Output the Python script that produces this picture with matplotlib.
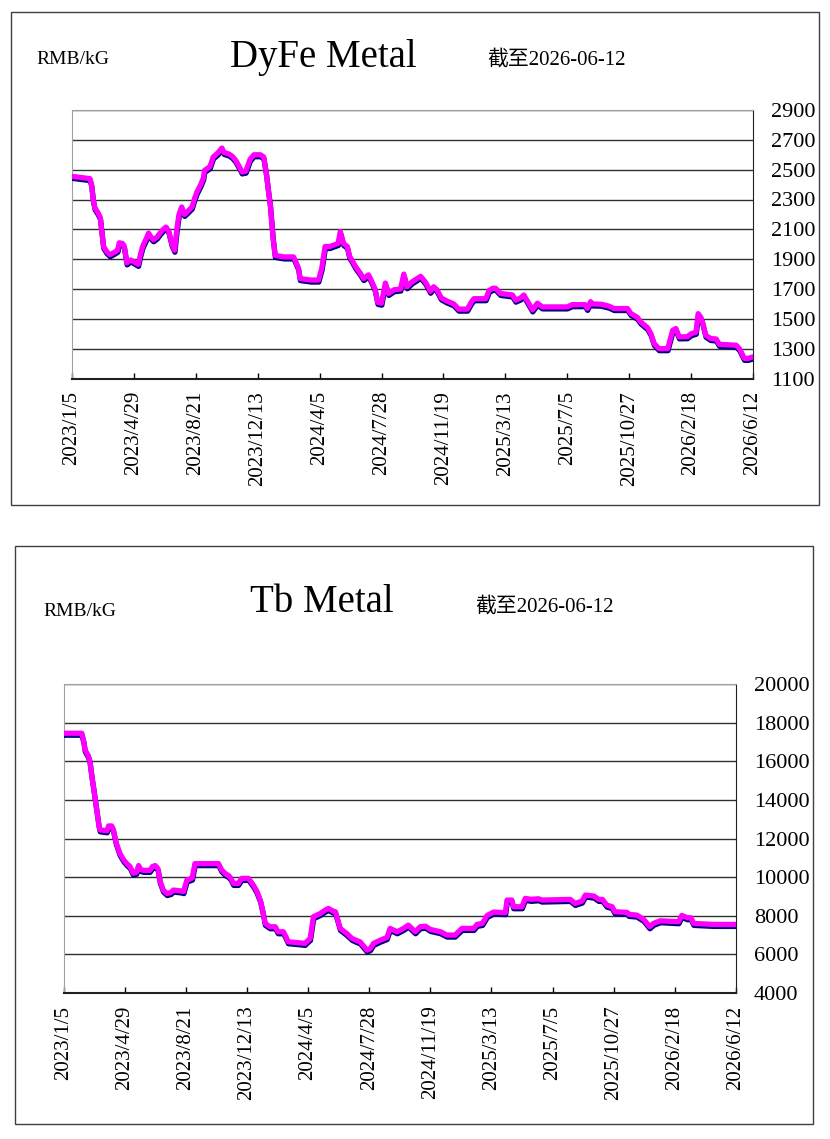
#import libraries
import numpy as np
import pandas as pd
import matplotlib
matplotlib.use("Agg")
import matplotlib.pyplot as plt
import matplotlib.transforms as mtransforms
from matplotlib.patches import Rectangle

plt.rcParams['font.family'] = ['Liberation Serif', 'Noto Sans CJK SC', 'DejaVu Sans']

#Dates on the x axis
start_date = "2023-01-05"
tick_labels = ["2023/1/5", "2023/4/29", "2023/8/21", "2023/12/13", "2024/4/5", "2024/7/28",
               "2024/11/19", "2025/3/13", "2025/7/5", "2025/10/27", "2026/2/18", "2026/6/12"]
as_of = "截至2026-06-12"
unit = "RMB/kG"

#DyFe metal price (days after start date, RMB/kg)
dyfe_day = [0, 33, 36, 39, 42, 48, 52, 56, 58, 64, 70, 80, 84, 87, 93, 96, 101, 108, 115, 122,
            126, 130, 137, 141, 146, 150, 157, 162, 168, 173, 178, 184, 189, 193, 197, 202, 207,
            213, 221, 226, 230, 237, 242, 244, 254, 260, 268, 276, 280, 289, 295, 301, 308, 313,
            320, 328, 335, 347, 353, 358, 362, 365, 370, 374, 390, 408, 413, 417, 420, 440, 454,
            460, 466, 475, 482, 490, 494, 500, 507, 511, 516, 522, 530, 537, 546, 552, 558, 563,
            570, 577, 583, 593, 605, 611, 617, 625, 642, 651, 660, 666, 672, 680, 690, 703, 712,
            728, 735, 740, 762, 768, 775, 780, 789, 811, 817, 826, 832, 840, 848, 857, 866, 912,
            921, 945, 949, 955, 958, 974, 989, 998, 1023, 1029, 1041, 1047, 1060, 1066, 1072,
            1081, 1097, 1106, 1112, 1118, 1133, 1140, 1149, 1153, 1158, 1161, 1167, 1176, 1186,
            1192, 1223, 1229, 1238, 1245, 1254]
dyfe_price = [2455, 2440, 2400, 2300, 2245, 2210, 2180, 2050, 1985, 1950, 1930, 1950, 1960, 2010,
              2005, 1990, 1875, 1895, 1880, 1865, 1930, 1985, 2040, 2075, 2045, 2030, 2050, 2075,
              2100, 2115, 2090, 2000, 1960, 2100, 2200, 2250, 2200, 2220, 2250, 2310, 2350, 2400,
              2445, 2495, 2520, 2585, 2610, 2645, 2615, 2605, 2590, 2565, 2520, 2485, 2490, 2570,
              2600, 2600, 2585, 2470, 2350, 2270, 2050, 1925, 1915, 1915, 1875, 1840, 1770, 1760,
              1760, 1840, 1985, 1985, 1995, 2005, 2085, 2005, 1985, 1920, 1890, 1850, 1810, 1770,
              1795, 1750, 1700, 1610, 1605, 1740, 1670, 1695, 1700, 1800, 1715, 1745, 1785, 1745,
              1685, 1715, 1695, 1640, 1620, 1600, 1565, 1565, 1610, 1635, 1635, 1690, 1705, 1705,
              1670, 1660, 1625, 1640, 1660, 1610, 1560, 1605, 1580, 1580, 1595, 1595, 1570, 1615,
              1600, 1598, 1585, 1569, 1569, 1536, 1510, 1480, 1440, 1400, 1334, 1300, 1300, 1423,
              1435, 1379, 1380, 1400, 1410, 1535, 1510, 1479, 1390, 1368, 1365, 1329, 1323, 1300,
              1235, 1235, 1245]

#Tb metal price (days after start date, RMB/kg)
tb_day = [0, 34, 38, 40, 46, 49, 53, 56, 62, 66, 68, 81, 84, 90, 93, 98, 105, 112, 118, 124, 130,
          136, 140, 144, 149, 161, 166, 171, 176, 180, 186, 193, 200, 205, 220, 224, 230, 240, 245,
          289, 295, 303, 307, 312, 317, 326, 332, 345, 354, 360, 367, 372, 376, 385, 395, 400, 410,
          415, 419, 440, 450, 460, 466, 479, 488, 494, 502, 507, 516, 528, 538, 548, 553, 566, 572,
          578, 591, 603, 609, 622, 634, 643, 656, 665, 675, 684, 703, 715, 730, 743, 765, 771, 781,
          790, 802, 824, 827, 836, 839, 855, 861, 872, 886, 892, 945, 954, 967, 973, 989, 998, 1005,
          1013, 1023, 1028, 1051, 1054, 1069, 1082, 1093, 1100, 1113, 1147, 1153, 1163, 1170, 1175,
          1212, 1254]
tb_price = [17450, 17450, 17000, 16600, 16300, 16050, 15200, 14650, 13500, 12700, 12450, 12400,
            12650, 12650, 12450, 11800, 11230, 10900, 10700, 10550, 10200, 10250, 10600, 10400,
            10350, 10350, 10550, 10600, 10450, 9800, 9330, 9150, 9200, 9330, 9280, 9250, 9850,
            9950, 10700, 10700, 10365, 10150, 10100, 9950, 9674, 9674, 9934, 9934, 9589, 9300,
            8812, 8200, 7604, 7430, 7430, 7170, 7170, 6900, 6653, 6600, 6567, 6826, 7948, 8122,
            8294, 8380, 8250, 8208, 7344, 7085, 6826, 6700, 6653, 6222, 6300, 6567, 6740, 6870,
            7344, 7171, 7344, 7516, 7171, 7430, 7460, 7292, 7171, 6999, 6999, 7344, 7344, 7551,
            7604, 8018, 8191, 8160, 8812, 8812, 8467, 8467, 8898, 8850, 8880, 8812, 8846, 8639,
            8760, 9071, 9019, 8846, 8846, 8553, 8467, 8208, 8173, 8070, 8035, 7810, 7430, 7604,
            7741, 7690, 8018, 7896, 7896, 7604, 7551, 7551]


#Function to draw one price panel
def draw_panel(fig, rect, box, days, prices, title, yticks, title_pos, unit_pos, asof_pos):
    ax = fig.add_axes(rect)
    dates = pd.Timestamp(start_date) + pd.to_timedelta(days, unit="D")

    #navy shadow under the magenta line
    shadow = ax.transData + mtransforms.ScaledTranslation(0.3 / 100, -2 / 100, fig.dpi_scale_trans)
    ax.plot(dates, prices, color="#000080", lw=3.8, solid_joinstyle="round", transform=shadow, zorder=3)
    ax.plot(dates, prices, color="#FF00FF", lw=3.8, solid_joinstyle="round", zorder=4)

    tick_dates = pd.to_datetime(tick_labels, format="%Y/%m/%d")
    ax.set_xlim(tick_dates[0], tick_dates[-1])
    ax.set_xticks(tick_dates)
    ax.set_xticklabels(tick_labels, rotation=90, fontsize=15)
    ax.tick_params(axis="x", direction="in", length=4, width=1, pad=9)

    ax.set_ylim(yticks[0], yticks[-1])
    ax.set_yticks(yticks)
    ax.yaxis.tick_right()
    ax.set_yticklabels([str(v) for v in yticks], fontsize=16)
    ax.tick_params(axis="y", length=0, pad=13)
    ax.grid(axis="y", color="#303030", lw=1)
    ax.set_axisbelow(True)

    ax.spines["left"].set_color("#a0a0a0")
    ax.spines["top"].set_color("#a0a0a0")
    ax.spines["bottom"].set_color("#202020")
    ax.spines["bottom"].set_linewidth(1.5)
    ax.spines["right"].set_color("#202020")

    fig.add_artist(Rectangle(box[:2], box[2], box[3], transform=fig.transFigure,
                             fill=False, edgecolor="#404040", lw=1))
    fig.text(title_pos[0], title_pos[1], title, fontsize=28, ha="center", va="center")
    fig.text(unit_pos[0], unit_pos[1], unit, fontsize=14, ha="center", va="center")
    fig.text(asof_pos[0], asof_pos[1], as_of, fontsize=15, ha="center", va="center")
    return ax


W, H = 830, 1139
fig = plt.figure(figsize=(W / 100, H / 100), dpi=100)

draw_panel(fig, [72 / W, 1 - 378.5 / H, 681 / W, 268.5 / H],
           [11 / W, 1 - 505 / H, 808 / W, 493 / H],
           dyfe_day, dyfe_price, "DyFe Metal", list(range(1100, 3000, 200)),
           (323 / W, 1 - 57 / H), (73 / W, 1 - 60 / H), (556 / W, 1 - 60 / H))

draw_panel(fig, [63.5 / W, 1 - 993 / H, 672.5 / W, 309 / H],
           [15 / W, 1 - 1124 / H, 798 / W, 578 / H],
           tb_day, tb_price, "Tb Metal", list(range(4000, 22000, 2000)),
           (322 / W, 1 - 603 / H), (80 / W, 1 - 612 / H), (545 / W, 1 - 607 / H))

fig.savefig("out.png", dpi=100)
